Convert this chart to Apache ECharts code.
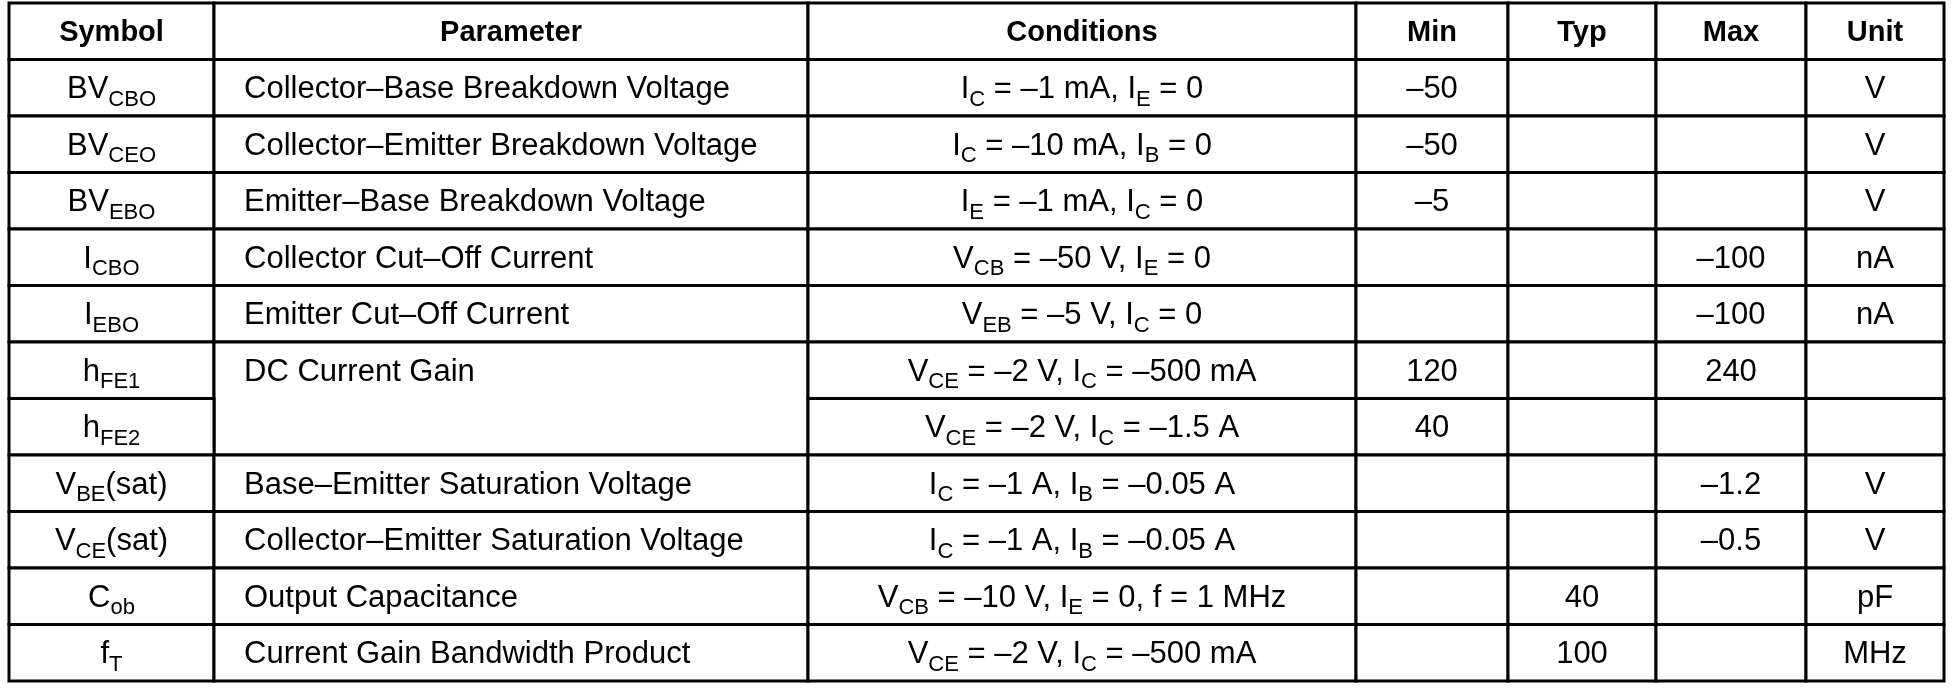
<!DOCTYPE html>
<html>
<head>
<meta charset="utf-8">
<script src="https://cdn.jsdelivr.net/npm/echarts@6/dist/echarts.min.js"></script>
<style>
  html, body {margin: 0; padding: 0; background: #fff;}
  #chart {width: 1954px; height: 692px;}
</style>
</head>
<body>
<div id="chart"></div>
<script>
// table content, [x] marks a subscript
const headers = ['Symbol', 'Parameter', 'Conditions', 'Min', 'Typ', 'Max', 'Unit'];
const symbols = ['BV[CBO]', 'BV[CEO]', 'BV[EBO]', 'I[CBO]', 'I[EBO]', 'h[FE1]', 'h[FE2]', 'V[BE](sat)', 'V[CE](sat)', 'C[ob]', 'f[T]'];
const parameters = [
  'Collector–Base Breakdown Voltage',
  'Collector–Emitter Breakdown Voltage',
  'Emitter–Base Breakdown Voltage',
  'Collector Cut–Off Current',
  'Emitter Cut–Off Current',
  'DC Current Gain',
  null, // merged with row above
  'Base–Emitter Saturation Voltage',
  'Collector–Emitter Saturation Voltage',
  'Output Capacitance',
  'Current Gain Bandwidth Product'
];
const conditions = [
  'I[C] = –1 mA, I[E] = 0',
  'I[C] = –10 mA, I[B] = 0',
  'I[E] = –1 mA, I[C] = 0',
  'V[CB] = –50 V, I[E] = 0',
  'V[EB] = –5 V, I[C] = 0',
  'V[CE] = –2 V, I[C] = –500 mA',
  'V[CE] = –2 V, I[C] = –1.5 A',
  'I[C] = –1 A, I[B] = –0.05 A',
  'I[C] = –1 A, I[B] = –0.05 A',
  'V[CB] = –10 V, I[E] = 0, f = 1 MHz',
  'V[CE] = –2 V, I[C] = –500 mA'
];
const minValues = ['–50', '–50', '–5', '', '', '120', '40', '', '', '', ''];
const typValues = ['', '', '', '', '', '', '', '', '', '40', '100'];
const maxValues = ['', '', '', '–100', '–100', '240', '', '–1.2', '–0.5', '', ''];
const units = ['V', 'V', 'V', 'nA', 'nA', '', '', 'V', 'V', 'pF', 'MHz'];

// layout: column edges in pixels
const colEdges = [9, 214, 808, 1356, 1508, 1656, 1806, 1944];
const colAlign = ['center', 'left', 'center', 'center', 'center', 'center', 'center'];

function toRich(s, bold) {
  if (bold) return '{b|' + s + '}';
  let out = '';
  const re = /([^\[]*)(\[([^\]]*)\])?/g;
  let m;
  while ((m = re.exec(s)) !== null) {
    if (m[0] === '') break;
    if (m[1]) out += '{n|' + m[1] + '}';
    if (m[3]) out += '{s|' + m[3] + '}';
  }
  return out;
}

// each cell: [col, row, rowSpan, header?1:0]
const cells = [];
const cellText = [];
headers.forEach((h, c) => { cells.push([c, 0, 1, 1]); cellText.push(toRich(h, true)); });
const columns = [symbols, parameters, conditions, minValues, typValues, maxValues, units];
for (let r = 0; r < symbols.length; r++) {
  columns.forEach((col, c) => {
    const v = col[r];
    if (v === null) return;
    let span = 1;
    if (c === 1 && r + 1 < symbols.length && col[r + 1] === null) span = 2;
    cells.push([c, r + 1, span, 0]);
    cellText.push(v ? toRich(v) : '');
  });
}

const rich = {
  n: {fontSize: 31, fontFamily: 'Liberation Sans', color: '#000', lineHeight: 32},
  s: {fontSize: 22, fontFamily: 'Liberation Sans', color: '#000', lineHeight: 22, padding: [20, 0, 0, 0]},
  b: {fontSize: 29, fontFamily: 'Liberation Sans', fontWeight: 'bold', color: '#000', lineHeight: 32}
};

const chart = echarts.init(document.getElementById('chart'));
chart.setOption({
  backgroundColor: '#fff',
  animation: false,
  grid: {left: 0, right: 0, top: 3, bottom: 11},
  xAxis: {type: 'value', min: 0, max: 1954, show: false},
  yAxis: {type: 'value', min: 0, max: 12, inverse: true, show: false},
  series: [{
    type: 'custom',
    data: cells,
    renderItem: function (params, api) {
      const cell = cells[params.dataIndex];
      const c = cell[0], r = cell[1], span = cell[2], isHeader = cell[3];
      const p0 = api.coord([colEdges[c], r]);
      const p1 = api.coord([colEdges[c + 1], r + span]);
      const text = cellText[params.dataIndex];
      const align = isHeader ? 'center' : colAlign[c];
      const tx = align === 'left' ? p0[0] + 30 : (p0[0] + p1[0]) / 2;
      const rowH = (p1[1] - p0[1]) / span;
      const ty = p0[1] + rowH / 2;
      return {
        type: 'group',
        children: [{
          type: 'rect',
          shape: {x: p0[0], y: p0[1], width: p1[0] - p0[0], height: p1[1] - p0[1]},
          style: {fill: '#fff', stroke: '#000', lineWidth: 3}
        }, {
          type: 'text',
          style: {
            text: text, rich: rich, x: tx, y: ty + 2,
            align: align, verticalAlign: 'middle'
          }
        }]
      };
    }
  }]
});
</script>
</body>
</html>
